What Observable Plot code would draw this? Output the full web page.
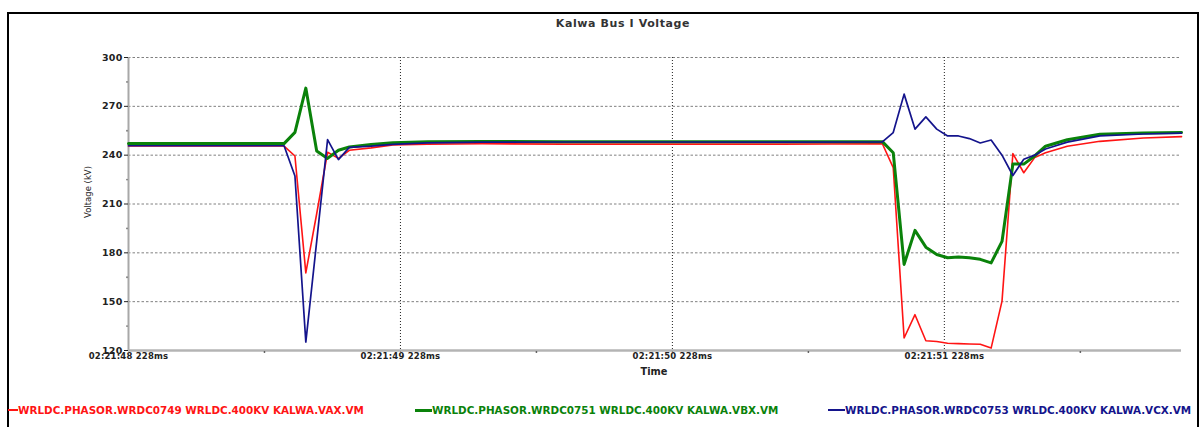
<!DOCTYPE html>
<html><head><meta charset="utf-8">
<script src="https://cdn.jsdelivr.net/npm/d3@7"></script>
<script src="https://cdn.jsdelivr.net/npm/@observablehq/plot@0.6"></script>
<style>
body{margin:0;background:#fff;}
#wrap{position:relative;width:1200px;height:427px;overflow:hidden;font-family:"DejaVu Sans",sans-serif;}
#frame{position:absolute;left:7px;top:12px;width:1188px;height:600px;border:2px solid #000;box-sizing:content-box;}
#chart{position:absolute;left:0;top:0;}
.lbl{position:absolute;white-space:nowrap;color:#333;}
#title{left:623px;top:23px;transform:translate(-50%,-50%);font-weight:bold;font-size:11px;letter-spacing:0.6px;}
#ylab{left:87.5px;top:192px;transform:translate(-50%,-50%) rotate(-90deg);font-size:8.5px;color:#222;}
#xlab{left:654px;top:371px;transform:translate(-50%,-50%);font-weight:bold;font-size:9.8px;color:#222;}
.leg{position:absolute;top:410px;transform:translateY(-50%);display:flex;align-items:center;font-weight:bold;font-size:10.4px;white-space:nowrap;}
.leg span.sw{display:inline-block;}
svg text{letter-spacing:0.2px;}
</style></head>
<body><div id="wrap">
<div id="chart"></div>
<div id="frame"></div>
<div class="lbl" id="title"></div>
<div class="lbl" id="ylab"></div>
<div class="lbl" id="xlab"></div>
<div id="legend"></div>
</div>
<script>
// Time offsets (ms) from 02:21:48.228
const times = [0, 572, 612, 652, 692, 732, 772, 812, 892, 972, 1100, 1300, 1600, 2000, 2400,
  2772, 2812, 2852, 2892, 2932, 2972, 3012, 3052, 3092, 3132, 3172, 3212, 3252, 3292, 3332,
  3372, 3452, 3572, 3732, 3872];
const vax = [245.6, 245.6, 239.5, 167.7, 204, 241.8, 238, 243, 244.5, 246.3, 246.8, 247, 246.8, 246.8, 246.8,
  247, 232.3, 127.7, 142, 126, 125.5, 124.5, 124.2, 124, 123.8, 121.5, 150.3, 241, 229.2, 238.5,
  241.5, 245.5, 248.5, 250.5, 251.4];
const vbx = [247.1, 247.1, 254, 281.2, 242.6, 238, 243, 245, 246.6, 247.6, 248.2, 248.4, 248.3, 248.3, 248.3,
  248.3, 241.5, 172.9, 193.8, 183.5, 179, 177, 177.4, 177, 176, 173.8, 187, 234.5, 234.5, 239.5,
  245.5, 249.5, 252.9, 253.6, 254];
const vcx = [245.8, 245.8, 227.2, 125.2, 187, 249.5, 237.3, 244.8, 245.5, 246.6, 247.6, 248, 248.1, 248.1, 248,
  248.1, 253.9, 277.5, 256, 263.5, 256, 251.8, 251.8, 250.2, 247.5, 249.3, 240, 227.5, 237.5, 240,
  243.8, 248, 251.8, 253, 253.5];

const seriesNames = [
  "WRLDC.PHASOR.WRDC0749 WRLDC.400KV KALWA.VAX.VM",
  "WRLDC.PHASOR.WRDC0751 WRLDC.400KV KALWA.VBX.VM",
  "WRLDC.PHASOR.WRDC0753 WRLDC.400KV KALWA.VCX.VM"
];
const seriesColors = ["#ff1414", "#0a820a", "#14148c"];
const seriesWidths = [1.6, 3, 1.7];

const xTicks = [0, 1000, 2000, 3000];
const xTickLabels = ["02:21:48 228ms", "02:21:49 228ms", "02:21:50 228ms", "02:21:51 228ms"];
const xMinor = [500, 1500, 2500, 3500];
const yTicks = [120, 150, 180, 210, 240, 270, 300];
const yMinor = [135, 165, 195, 225, 255, 285];
const titleText = "Kalwa Bus I Voltage";
const yLabel = "Voltage (kV)";
const xLabel = "Time";

const rows = (vals) => times.map((t, i) => ({t, v: vals[i]}));
const data = [rows(vax), rows(vbx), rows(vcx)];

const chart = Plot.plot({
  width: 1200, height: 427,
  marginLeft: 128, marginRight: 19, marginTop: 57, marginBottom: 77,
  style: {background: "transparent", fontFamily: "DejaVu Sans", overflow: "visible"},
  x: {domain: [0, 3872]},
  y: {domain: [120, 300]},
  marks: [
    Plot.ruleY(yTicks.filter(d => d > 120), {stroke: "#808080", strokeDasharray: "2.5,2", strokeWidth: 1}),
    Plot.ruleX(xTicks.filter(d => d > 0), {stroke: "#222", strokeDasharray: "1,2", strokeWidth: 1, y1: 300, y2: 117.5}),
    Plot.ruleX([0], {stroke: "#a8a8a8", strokeWidth: 2, y1: 120, y2: 300}),
    Plot.ruleY([120], {stroke: "#b4b4b4", strokeWidth: 2.5, x1: 0, x2: 3872}),
    Plot.dot(xMinor, {x: d => d, y: 120, r: 0.9, fill: "#555", stroke: null, dy: 1.5}),
    Plot.dot(yMinor, {x: 0, y: d => d, r: 0.9, fill: "#777", stroke: null, dx: -1.5}),
    Plot.axisY({ticks: yTicks, tickSize: 4, tickPadding: 2, fontSize: 9.5, fontWeight: "bold", color: "#222", label: null}),
    Plot.axisX({ticks: xTicks, tickFormat: d => xTickLabels[xTicks.indexOf(d)], tickSize: 0, tickPadding: 2, fontSize: 8.5, fontWeight: "bold", color: "#222", label: null}),
    Plot.line(data[0], {x: "t", y: "v", stroke: seriesColors[0], strokeWidth: seriesWidths[0]}),
    Plot.line(data[1], {x: "t", y: "v", stroke: seriesColors[1], strokeWidth: seriesWidths[1], strokeLinejoin: "round"}),
    Plot.line(data[2], {x: "t", y: "v", stroke: seriesColors[2], strokeWidth: seriesWidths[2]})
  ]
});
document.getElementById("chart").appendChild(chart);
document.getElementById("title").textContent = titleText;
document.getElementById("ylab").textContent = yLabel;
document.getElementById("xlab").textContent = xLabel;

const legendPos = [{line: [8, 18]}, {line: [415, 432]}, {line: [828, 845]}];
const legend = document.getElementById("legend");
seriesNames.forEach((name, i) => {
  const d = document.createElement("div");
  d.className = "leg";
  d.style.left = legendPos[i].line[0] + "px";
  d.style.color = seriesColors[i];
  const sw = document.createElement("span");
  sw.className = "sw";
  sw.style.width = (legendPos[i].line[1] - legendPos[i].line[0]) + "px";
  sw.style.height = (i === 1 ? 3 : 2) + "px";
  sw.style.background = seriesColors[i];
  const tx = document.createElement("span");
  tx.textContent = name;
  d.appendChild(sw); d.appendChild(tx);
  legend.appendChild(d);
});
</script>
</body></html>
